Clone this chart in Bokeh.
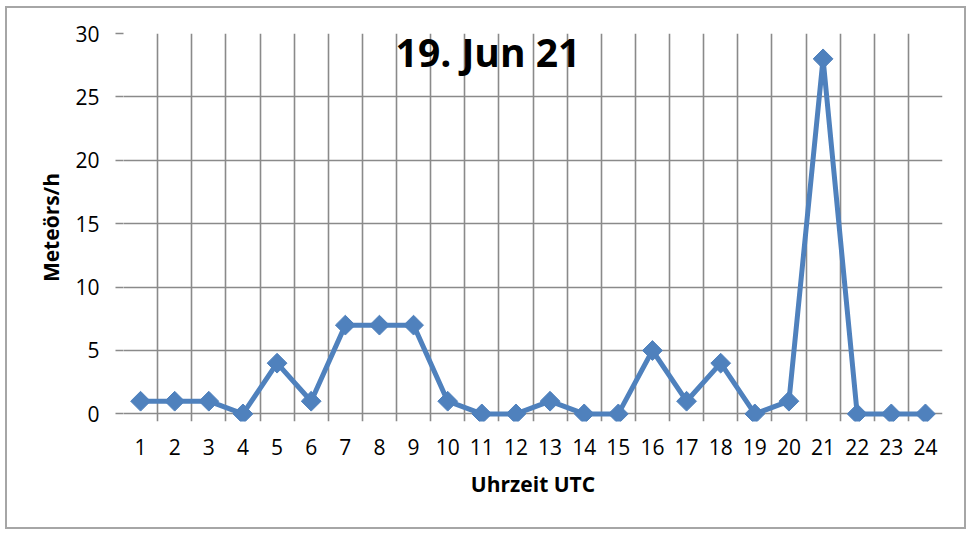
import math
from bokeh.plotting import figure
from bokeh.models import FixedTicker, Range1d, Label, ColumnDataSource
from bokeh.embed import file_html
from bokeh.resources import INLINE

hours = list(range(1, 25))
meteors = [1, 1, 1, 0, 4, 1, 7, 7, 7, 1, 0, 0, 1, 0, 0, 5, 1, 4, 0, 1, 28, 0, 0, 0]
y_ticks = [0, 5, 10, 15, 20, 25, 30]
title_text = "19. Jun 21"
x_label = "Uhrzeit UTC"
y_label = "Meteörs/h"

FONT = "Open Sans"
GRID = "#8a8a8a"
BLUE = "#4f81bd"

src = ColumnDataSource(dict(x=hours, y=meteors))

# the frame reaches a little below 0 so that the vertical grid lines
# also serve as the category tick marks below the zero line
p = figure(width=961, height=523, output_backend="svg", toolbar_location=None,
           x_range=Range1d(0.5, 24.5), y_range=Range1d(-0.6, 30),
           min_border_left=116, min_border_top=25, min_border_right=26,
           min_border_bottom=110)
p.outline_line_color = None
p.background_fill_color = "white"
p.border_fill_color = "white"
p.styles = {"border": "2px solid #a6a6a6",
            "margin-left": "5px", "margin-top": "6px"}

half = [h - 0.5 for h in hours] + [24.5]
p.xaxis.ticker = FixedTicker(ticks=hours)
p.xgrid.ticker = FixedTicker(ticks=half)
p.yaxis.ticker = FixedTicker(ticks=y_ticks)
p.ygrid.ticker = FixedTicker(ticks=y_ticks)

p.xgrid.grid_line_color = GRID
p.ygrid.grid_line_color = GRID
p.xgrid.grid_line_width = 1.6
p.ygrid.grid_line_width = 1.6

for ax in (p.xaxis[0], p.yaxis[0]):
    ax.major_label_text_font = FONT
    ax.major_label_text_font_size = "21px"
    ax.major_label_text_color = "black"
    ax.axis_label_text_font = FONT
    ax.axis_label_text_font_style = "bold"
    ax.axis_label_text_font_size = "21px"
    ax.axis_label_text_color = "black"

p.xaxis.axis_line_color = None
p.xaxis.major_tick_line_color = None
p.xaxis.minor_tick_line_color = None
p.xaxis.major_tick_out = 0
p.xaxis.major_tick_in = 0
p.xaxis.major_label_standoff = 17
p.xaxis.axis_label = x_label
p.xaxis.axis_label_standoff = 12

p.yaxis.axis_line_color = None
p.yaxis.major_tick_line_color = GRID
p.yaxis.major_tick_line_width = 1.6
p.yaxis.major_tick_out = 8
p.yaxis.major_tick_in = 0
p.yaxis.minor_tick_line_color = None
p.yaxis.major_label_standoff = 16
p.yaxis.axis_label = y_label
p.yaxis.axis_label_standoff = 7

p.line("x", "y", source=src, line_color=BLUE, line_width=5)
p.scatter("x", "y", source=src, marker="square", size=14, angle=math.pi / 4,
          fill_color=BLUE, line_color=BLUE)

p.add_layout(Label(x=11.18, y=28.6, text=title_text, text_font=FONT,
                   text_font_style="bold", text_font_size="39px",
                   text_align="center", text_baseline="alphabetic",
                   text_color="black"))

open("out.html", "w").write(file_html(p, INLINE))
